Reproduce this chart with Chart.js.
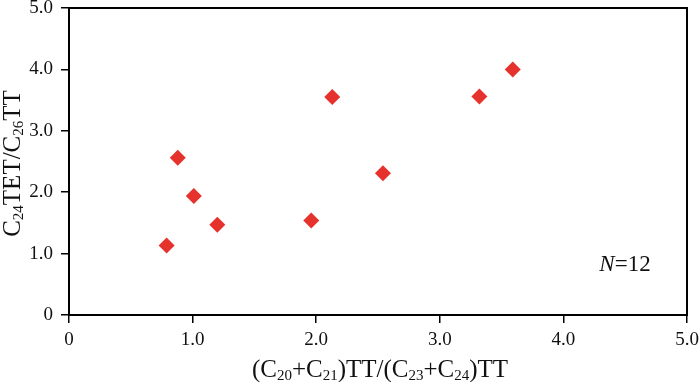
<!DOCTYPE html>
<html>
<head>
<meta charset="utf-8">
<script src="https://cdn.jsdelivr.net/npm/chart.js@4/dist/chart.umd.min.js"></script>
<style>
html,body{margin:0;padding:0;background:#fff;}
#wrap{width:700px;height:382px;position:relative;}
</style>
</head>
<body>
<div id="wrap"><canvas id="c" width="700" height="382"></canvas></div>
<script>
const xValues = [0.79, 0.88, 1.01, 1.20, 1.96, 2.13, 2.54, 3.32, 3.59];
const yValues = [1.13, 2.56, 1.94, 1.47, 1.54, 3.55, 2.31, 3.56, 4.00];
const tickValues = [0, 1, 2, 3, 4, 5];
const tickLabels = ['0', '1.0', '2.0', '3.0', '4.0', '5.0'];
const xTitleRuns = [['(C'], ['20', 'sub'], ['+C'], ['21', 'sub'], [')TT/(C'], ['23', 'sub'], ['+C'], ['24', 'sub'], [')TT']];
const yTitleRuns = [['C'], ['24', 'sub'], ['TET/C'], ['26', 'sub'], ['TT']];
const noteRuns = [['N', 'it'], ['=12']];

const points = xValues.map((x, i) => ({x: x, y: yValues[i]}));
const FONT = '"Liberation Serif", "Times New Roman", serif';

function drawRich(ctx, runs, x, y, size) {
  const subSize = Math.round(size * 0.6);
  const fontOf = r => (r[1] === 'it' ? 'italic ' : '') + (r[1] === 'sub' ? subSize : size) + 'px ' + FONT;
  let total = 0;
  runs.forEach(r => { ctx.font = fontOf(r); total += ctx.measureText(r[0]).width; });
  let cx = x - total / 2;
  ctx.textBaseline = 'alphabetic';
  ctx.textAlign = 'left';
  runs.forEach(r => {
    ctx.font = fontOf(r);
    const dy = r[1] === 'sub' ? size * 0.1 : 0;
    ctx.fillText(r[0], cx, y + dy);
    cx += ctx.measureText(r[0]).width;
  });
}

const decor = {
  id: 'decor',
  afterDraw(chart) {
    const ctx = chart.ctx;
    const a = chart.chartArea;
    ctx.save();
    ctx.strokeStyle = '#000';
    ctx.lineWidth = 2;
    ctx.strokeRect(a.left, a.top, a.right - a.left, a.bottom - a.top);
    ctx.fillStyle = '#111';
    drawRich(ctx, xTitleRuns, (a.left + a.right) / 2 + 2, 377, 25);
    ctx.save();
    ctx.translate(20, (a.top + a.bottom) / 2 + 2);
    ctx.rotate(-Math.PI / 2);
    drawRich(ctx, yTitleRuns, 0, 0, 25);
    ctx.restore();
    drawRich(ctx, noteRuns, 625, 271, 23);
    ctx.restore();
  }
};

new Chart(document.getElementById('c'), {
  type: 'scatter',
  data: {
    datasets: [{
      data: points,
      pointStyle: 'rectRot',
      pointRadius: 8,
      pointHoverRadius: 8,
      backgroundColor: '#E5322D',
      borderWidth: 0
    }]
  },
  options: {
    responsive: false,
    animation: false,
    events: [],
    layout: {padding: {top: 6, right: 13, left: 0, bottom: 0}},
    plugins: {legend: {display: false}, tooltip: {enabled: false}},
    scales: {
      x: {
        type: 'linear', min: 0, max: 5,
        afterBuildTicks: s => { s.ticks = tickValues.map(v => ({value: v})); },
        afterFit: s => { s.height = 67; s.paddingLeft = 0; s.paddingRight = 0; },
        grid: {display: true, drawOnChartArea: false, drawTicks: true, tickLength: 8, color: '#000', lineWidth: 1.5},
        border: {display: true, color: '#000', width: 2},
        ticks: {color: '#111', font: {family: FONT, size: 19}, padding: 6, maxRotation: 0,
          callback: (v) => tickLabels[tickValues.indexOf(v)]}
      },
      y: {
        type: 'linear', min: 0, max: 5,
        afterBuildTicks: s => { s.ticks = tickValues.map(v => ({value: v})); },
        afterFit: s => { s.width = 69; s.paddingTop = 0; s.paddingBottom = 0; },
        grid: {display: true, drawOnChartArea: false, drawTicks: true, tickLength: 8, color: '#000', lineWidth: 1.5},
        border: {display: true, color: '#000', width: 2},
        ticks: {color: '#111', font: {family: FONT, size: 19}, padding: 8,
          callback: (v) => tickLabels[tickValues.indexOf(v)]}
      }
    }
  },
  plugins: [decor]
});
</script>
</body>
</html>
